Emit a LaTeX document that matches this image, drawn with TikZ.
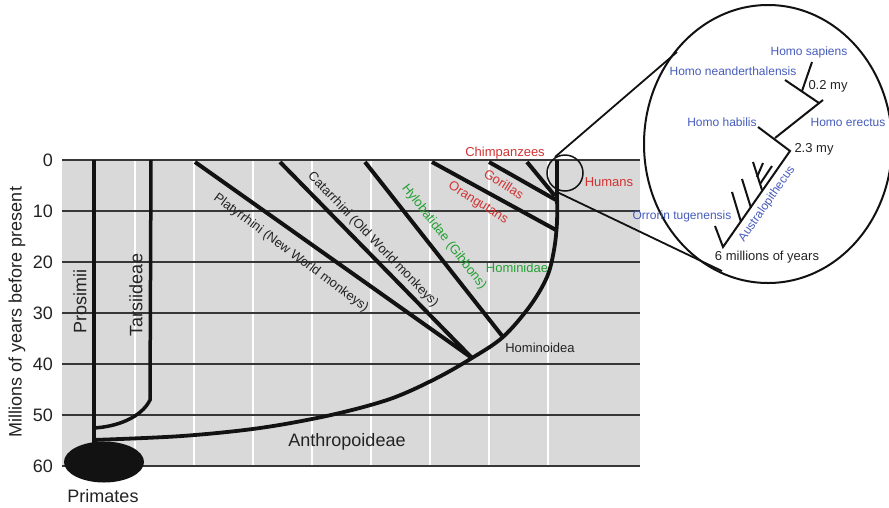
\documentclass[tikz,border=0pt]{standalone}
\usepackage{fontspec}
\setmainfont{Liberation Sans}
\usetikzlibrary{shapes.geometric}
\definecolor{bggrey}{RGB}{217,217,217}
\definecolor{gridc}{RGB}{55,55,55}
\definecolor{inkc}{RGB}{18,18,18}
\definecolor{textc}{RGB}{35,35,35}
\definecolor{redlab}{RGB}{210,50,50}
\definecolor{greenlab}{RGB}{36,160,52}
\definecolor{bluelab}{RGB}{70,92,186}
\begin{document}
\begin{tikzpicture}[x=1pt,y=-1pt,
  lbl/.style={inner sep=0pt, font=\fontsize{13}{15}\selectfont, text=textc},
  biglbl/.style={inner sep=0pt, font=\fontsize{18}{20}\selectfont, text=textc},
  zoomlbl/.style={inner sep=0pt, font=\fontsize{12}{14}\selectfont, text=bluelab},
  agelbl/.style={inner sep=0pt, font=\fontsize{13}{15}\selectfont, text=textc},
  branch/.style={line width=4pt, draw=inkc},
  twig/.style={line width=2pt, draw=inkc},
  gridline/.style={line width=1.3pt, draw=gridc},
  whiteline/.style={line width=1.5pt, draw=white},
  lens/.style={line width=1.8pt, draw=inkc}]
\useasboundingbox (0,0) rectangle (889,507);

% time chart background
\fill[bggrey] (62,160) rectangle (640,466);
\foreach \x in {135,194,253,312,371,430,489,548}
  \draw[whiteline] (\x,160) -- (\x,466);
\foreach \v [count=\i from 0] in {0,10,20,30,40,50,60} {
  \draw[gridline] (62,{160+51*\i}) -- (640,{160+51*\i});
  \node[biglbl, anchor=east] (tick\v) at (53,{160+51*\i}) {\v};
}
\node[biglbl, rotate=90] (ytitle) at (17,312) {Millions of years before present};

% root
\node[ellipse, fill=inkc, minimum width=80pt, minimum height=41pt, inner sep=0pt] (primates) at (104,462) {};
\node[biglbl] (primateslbl) at (103,496) {Primates};

% Prosimii and Tarsiideae
\coordinate (prosTop) at (94,160);
\coordinate (prosBase) at (94,445);
\draw[branch] (prosTop) -- (prosBase);
\coordinate (tarsTop) at (151,160);
\coordinate (tarsBend) at (150,400);
\coordinate (tarsBase) at (93,428);
\draw[line width=3.5pt, draw=inkc] (tarsTop) -- (tarsBend) .. controls (141,418) and (116,427) .. (tarsBase);
\node[biglbl, rotate=90] (prosimii) at (80,301) {Prosimii};
\node[biglbl, rotate=90] (tarsii) at (136,295) {Tarsiideae};

% Anthropoideae trunk up to the humans
\coordinate (anthBase) at (93,440);
\coordinate (catNode) at (472,358);
\coordinate (hominoidNode) at (503,337);
\coordinate (oranNode) at (556,230);
\coordinate (gorNode) at (556,200);
\coordinate (chimpNode) at (555,196);
\coordinate (humanTop) at (557,160);
\draw[line width=3.8pt, draw=inkc, line join=round] plot[smooth, tension=0.55] coordinates {
  (93,440) (182,436) (260,428) (331,415) (390,399) (435,379) (472,358)
  (503,337) (530,306) (547,277) (554,250) (557,222) (557,190) (557,160)};
\node[biglbl] (anthropoideae) at (347,442) {Anthropoideae};

% monkey and ape lineages
\coordinate (platyTop) at (195,162);
\coordinate (catTop) at (280,162);
\coordinate (hyloTop) at (365,162);
\coordinate (oranTop) at (432,162);
\coordinate (gorTop) at (489,162);
\coordinate (chimpTop) at (527,162);
\draw[branch] (platyTop) -- (catNode);
\draw[branch] (catTop) -- (catNode);
\draw[branch] (hyloTop) -- (hominoidNode);
\draw[branch] (oranTop) -- (oranNode);
\draw[branch] (gorTop) -- (gorNode);
\draw[branch] (chimpTop) -- (chimpNode);

\node[lbl, rotate=-36.5] (platy) at (291,253) {Platyrrhini (New World monkeys)};
\node[lbl, rotate=-46] (catar) at (373,240) {Catarrhini (Old World monkeys)};
\node[lbl, rotate=-52, text=greenlab] (hylo) at (444,237) {Hylobatidae (Gibbons)};
\node[lbl, rotate=-32, text=redlab] (oran) at (478,203) {Orangutans};
\node[lbl, rotate=-32, text=redlab] (gor) at (504,184) {Gorillas};
\node[lbl, text=redlab] (chimp) at (505,153) {Chimpanzees};
\node[lbl, text=redlab] (humans) at (609,182) {Humans};
\node[lbl, text=greenlab] (hominidae) at (517,268) {Hominidae};
\node[lbl] (hominoidea) at (540,348) {Hominoidea};

% magnifier: small circle, tangents and enlarged view
\node[circle, draw=inkc, line width=1.5pt, minimum size=36pt, inner sep=0pt] (lensSmall) at (565,173) {};
\node[ellipse, draw=inkc, line width=2pt, minimum width=248pt, minimum height=278pt, inner sep=0pt] (lensBig) at (768,144) {};
\coordinate (tanUpA) at (555,157);
\coordinate (tanUpB) at (677,52);
\coordinate (tanLowA) at (557,192);
\coordinate (tanLowB) at (722,271);
\draw[lens] (tanUpA) -- (tanUpB);
\draw[lens] (tanLowA) -- (tanLowB);

% hominin tree inside the enlarged view
\coordinate (sapTip) at (812,62);
\coordinate (sapBase) at (802,91);
\coordinate (neaTip) at (785,80);
\coordinate (jNea) at (819,103);
\coordinate (ereTip) at (823,100);
\coordinate (jEre) at (775,138);
\coordinate (habTip) at (758,127);
\coordinate (jHab) at (790,151);
\coordinate (jRoot) at (723,247);
\coordinate (orrTip) at (715,226);
\draw[twig] (sapTip) -- (sapBase);
\draw[twig] (neaTip) -- (jNea);
\draw[twig] (ereTip) -- (jEre);
\draw[twig, line join=miter] (habTip) -- (jHab) -- (jRoot) -- (orrTip);
\coordinate (austA) at (732,192);  \coordinate (austAb) at (741,222);
\coordinate (austB) at (742,179);  \coordinate (austBb) at (751,208);
\coordinate (austC) at (753,162);  \coordinate (austCb) at (762,190);
\coordinate (austD) at (763,163);  \coordinate (austDb) at (757,177);
\coordinate (austE) at (772,166);  \coordinate (austEb) at (760,184);
\draw[twig] (austA) -- (austAb);
\draw[twig] (austB) -- (austBb);
\draw[twig] (austC) -- (austCb);
\draw[twig] (austD) -- (austDb);
\draw[twig] (austE) -- (austEb);

\node[zoomlbl] (sapiens) at (809,52) {Homo sapiens};
\node[zoomlbl] (neander) at (733,71) {Homo neanderthalensis};
\node[zoomlbl] (habilis) at (722,122) {Homo habilis};
\node[zoomlbl] (erectus) at (848,122) {Homo erectus};
\node[zoomlbl] (orrorin) at (682,216) {Orrorin tugenensis};
\node[zoomlbl, rotate=55] (austral) at (767,204) {Australopithecus};
\node[agelbl] (age02) at (828,86) {0.2 my};
\node[agelbl] (age23) at (814,149) {2.3 my};
\node[agelbl] (age6) at (767,257) {6 millions of years};
\end{tikzpicture}
\end{document}
